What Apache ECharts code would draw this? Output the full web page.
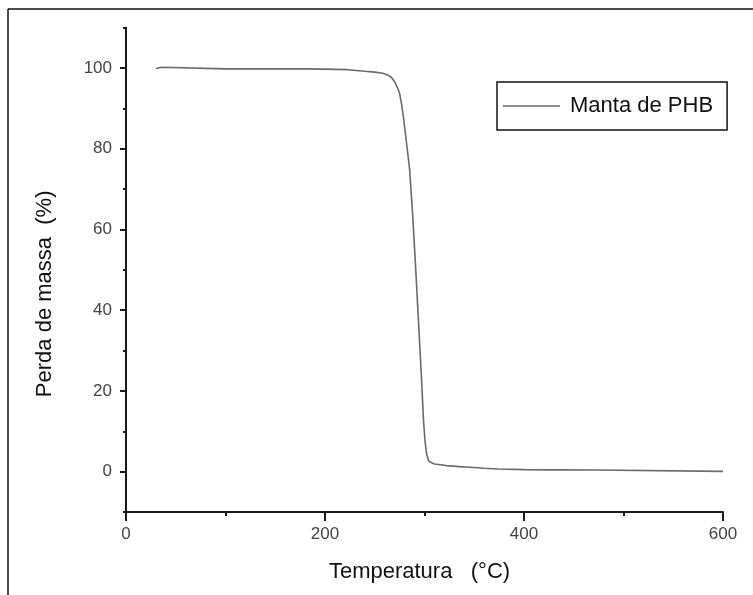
<!DOCTYPE html>
<html>
<head>
<meta charset="utf-8">
<script src="https://cdn.jsdelivr.net/npm/echarts@6/dist/echarts.min.js"></script>
<style>html,body{margin:0;padding:0;background:#fff}#chart{width:753px;height:595px}</style>
</head>
<body>
<div id="chart"></div>
<script>
// Temperature (°C)
const temps = [30, 31, 36, 37, 100, 185, 186, 223, 224, 240, 250, 258, 263, 267, 270, 273, 275, 277, 279, 282, 285, 288, 291, 294, 297, 299, 300.5, 302, 304, 306, 310, 316, 322, 335, 346, 360, 374, 400, 430, 472, 474, 600];
// Mass (%)
const mass = [99.9, 100.2, 100.2, 99.8, 99.8, 99.8, 99.6, 99.6, 99.3, 99.2, 99.0, 98.7, 98.3, 97.6, 96.6, 95.0, 93.7, 91.0, 87.5, 81.3, 75, 64, 51, 37, 23, 12.7, 7.7, 4.5, 2.8, 2.3, 1.9, 1.7, 1.5, 1.25, 1.07, 0.85, 0.66, 0.5, 0.45, 0.4, 0.1, 0.07];
const seriesName = 'Manta de PHB';
const xTickLabels = [0, 200, 400, 600];
const yTickLabels = [0, 20, 40, 60, 80, 100];
const xName = 'Temperatura   (°C)';
const yName = 'Perda de massa  (%)';

const data = temps.map((t, i) => [t, mass[i]]);
const axisColor = '#1a1a1a';
const lineColor = '#6a6a6a';
const font = 'Liberation Sans, Arial';
const chart = echarts.init(document.getElementById('chart'));
chart.setOption({
  animation: false,
  backgroundColor: '#fff',
  grid: { left: 126, right: 30, top: 27.7, bottom: 83 },
  legend: {
    left: 497, top: 82,
    padding: [13, 14, 13, 6],
    borderColor: '#111', borderWidth: 1.5,
    icon: 'rect',
    itemWidth: 57, itemHeight: 1.5,
    itemStyle: { color: lineColor },
    textStyle: { fontSize: 22, color: '#111', fontFamily: font, padding: [0, 0, 0, 5] },
    data: [{ name: seriesName }]
  },
  xAxis: [{
    type: 'value', min: 0, max: 600, interval: 100,
    name: xName, nameLocation: 'middle', nameGap: 49,
    nameTextStyle: { fontSize: 22, color: '#111', fontFamily: font, padding: [0, 10, 0, 0] },
    axisLine: { show: true, onZero: false, lineStyle: { color: axisColor, width: 2 } },
    axisTick: { show: true, length: 4, lineStyle: { color: axisColor, width: 2 } },
    axisLabel: { margin: 14, fontSize: 17, color: '#444', fontFamily: font,
      formatter: v => xTickLabels.indexOf(v) >= 0 ? String(v) : '' },
    splitLine: { show: false }
  }, {
    type: 'value', min: 0, max: 600, position: 'bottom',
    axisLine: { show: false, onZero: false }, axisLabel: { show: false }, splitLine: { show: false },
    axisTick: { show: true, length: 9, customValues: xTickLabels, lineStyle: { color: axisColor, width: 2 } }
  }],
  yAxis: [{
    type: 'value', min: -10, max: 110, interval: 10,
    name: yName, nameLocation: 'middle', nameGap: 70,
    nameTextStyle: { fontSize: 22, color: '#111', fontFamily: font, padding: [0, 48, 0, 0] },
    axisLine: { show: true, onZero: false, lineStyle: { color: axisColor, width: 2 } },
    axisTick: { show: true, length: 3, lineStyle: { color: axisColor, width: 2 } },
    axisLabel: { margin: 14, fontSize: 17, color: '#444', fontFamily: font,
      formatter: v => yTickLabels.indexOf(v) >= 0 ? String(v) : '' },
    splitLine: { show: false }
  }, {
    type: 'value', min: -10, max: 110, position: 'left',
    axisLine: { show: false, onZero: false }, axisLabel: { show: false }, splitLine: { show: false },
    axisTick: { show: true, length: 6, customValues: yTickLabels, lineStyle: { color: axisColor, width: 2 } }
  }],
  graphic: [
    { type: 'line', shape: { x1: 8, y1: 9, x2: 753, y2: 9 }, style: { stroke: '#111', lineWidth: 1.5 } },
    { type: 'line', shape: { x1: 8, y1: 9, x2: 8, y2: 595 }, style: { stroke: '#111', lineWidth: 1.5 } }
  ],
  series: [{
    name: seriesName, type: 'line', data: data, showSymbol: false, symbol: 'none',
    xAxisIndex: 0, yAxisIndex: 0,
    lineStyle: { color: lineColor, width: 1.6 }, itemStyle: { color: lineColor }
  }]
});
</script>
</body>
</html>
